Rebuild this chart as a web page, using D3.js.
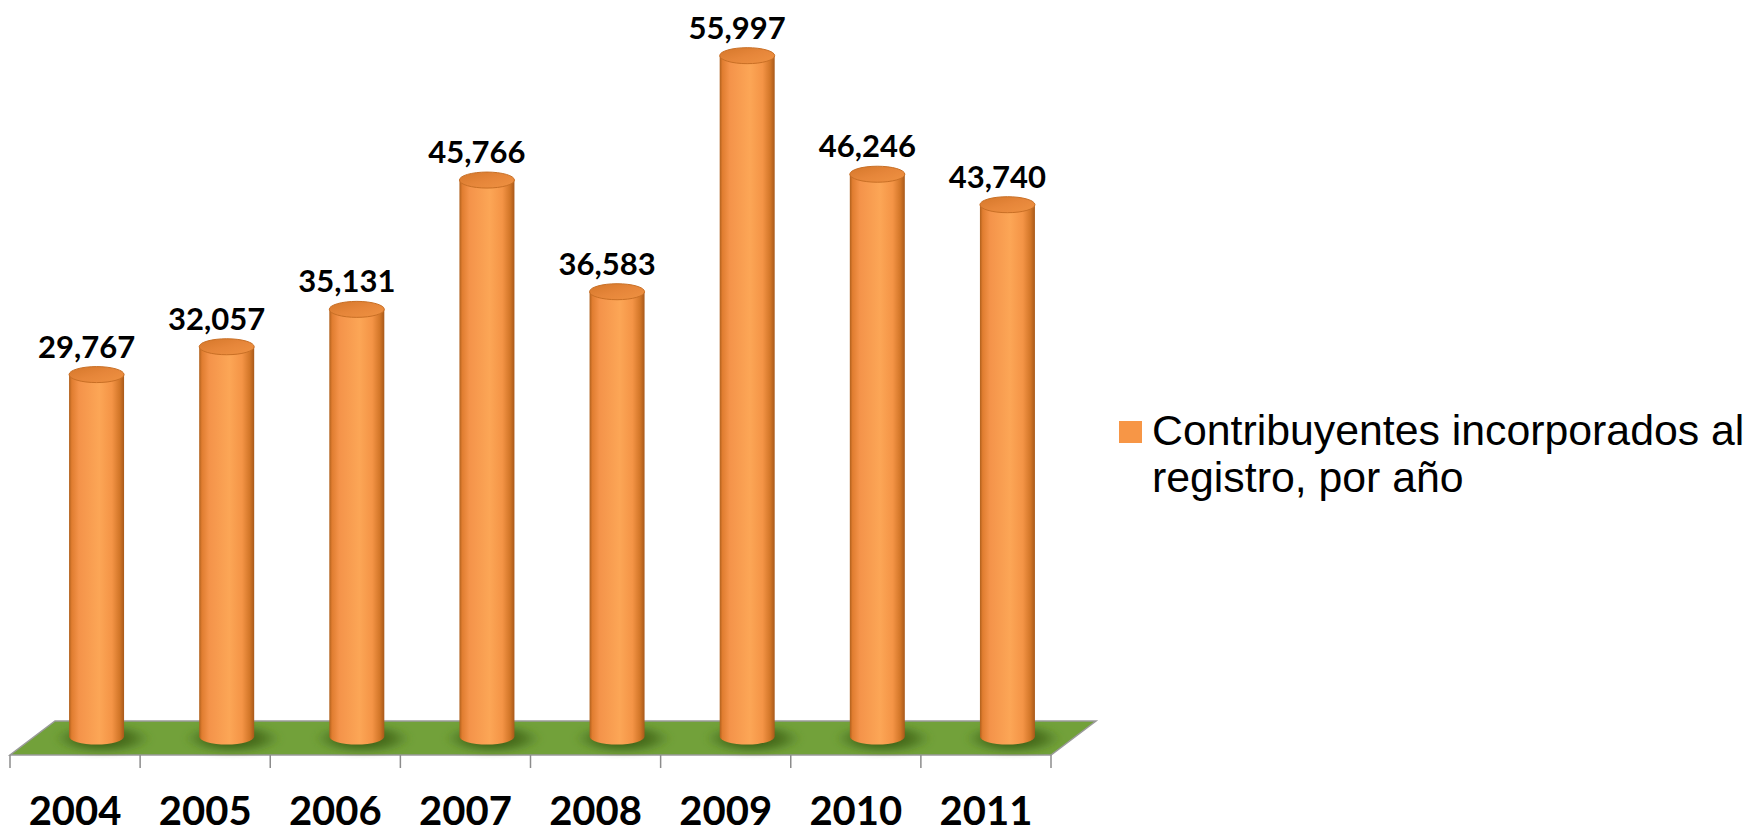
<!DOCTYPE html>
<html>
<head>
<meta charset="utf-8">
<script src="https://cdn.jsdelivr.net/npm/d3@7/dist/d3.min.js"></script>
<style>
  html, body { margin: 0; padding: 0; background: #ffffff; }
  svg { display: block; }
</style>
</head>
<body>
<svg id="chart" width="1759" height="834"></svg>
<script>
// Taxpayers added to the register, per year
const years = ["2004", "2005", "2006", "2007", "2008", "2009", "2010", "2011"];
const values = [29767, 32057, 35131, 45766, 36583, 55997, 46246, 43740];
const seriesName = ["Contribuyentes incorporados al", "registro, por año"];

const svg = d3.select("#chart");
const defs = svg.append("defs");

// floor geometry (oblique projection of a flat plane)
const frontY = 755, backY = 721;
const depthDx = 45;                 // horizontal shift from front edge to back edge
const midDx = depthDx / 2;

const x = d3.scaleBand().domain(years).range([10, 1051]).paddingInner(0).paddingOuter(0);
const y = d3.scaleLinear().domain([0, 60000]).range([736.5, 7]);

const barRx = 27.5, barRy = 8;

// cylinder body shading
const bodyGrad = defs.append("linearGradient").attr("id", "cylBody")
  .attr("x1", "0%").attr("x2", "100%").attr("y1", "0%").attr("y2", "0%");
[["0%", "#b0601c"], ["5%", "#e07d30"], ["18%", "#f4934a"], ["55%", "#fca656"],
 ["78%", "#f49446"], ["92%", "#d27628"], ["100%", "#a8591a"]]
  .forEach(([o, c]) => bodyGrad.append("stop").attr("offset", o).attr("stop-color", c));

// cylinder top face shading
const capGrad = defs.append("linearGradient").attr("id", "cylTop")
  .attr("x1", "0%").attr("x2", "100%").attr("y1", "0%").attr("y2", "100%");
[["0%", "#d5772a"], ["50%", "#e6863a"], ["100%", "#ef9242"]]
  .forEach(([o, c]) => capGrad.append("stop").attr("offset", o).attr("stop-color", c));

// soft shadow under each cylinder
const shadowGrad = defs.append("radialGradient").attr("id", "baseShadow");
shadowGrad.append("stop").attr("offset", "0%").attr("stop-color", "#2a4a10").attr("stop-opacity", 0.9);
shadowGrad.append("stop").attr("offset", "60%").attr("stop-color", "#3a5e16").attr("stop-opacity", 0.65);
shadowGrad.append("stop").attr("offset", "100%").attr("stop-color", "#4a7220").attr("stop-opacity", 0);
defs.append("filter").attr("id", "soft").attr("x", "-50%").attr("y", "-50%").attr("width", "200%").attr("height", "200%")
  .append("feGaussianBlur").attr("stdDeviation", 3);

// floor plane
const x0 = x.range()[0], x1 = x.range()[1];
svg.append("path")
  .attr("d", `M${x0},${frontY} L${x1},${frontY} L${x1 + depthDx},${backY} L${x0 + depthDx},${backY} Z`)
  .attr("fill", "#72a13a")
  .attr("stroke", "#9a9a9a")
  .attr("stroke-width", 1.5);

// category boundary ticks below the floor
const edges = years.map(d => x(d)).concat([x1]);
svg.append("g").selectAll("line").data(edges).join("line")
  .attr("x1", d => d).attr("x2", d => d)
  .attr("y1", frontY).attr("y2", frontY + 13)
  .attr("stroke", "#8c8c8c").attr("stroke-width", 1.5);

const cx = d => x(d) + x.bandwidth() / 2 + midDx - 1;
const baseY = y(0);

const data = years.map((yr, i) => ({ yr, v: values[i] }));

// shadows
svg.append("g").selectAll("ellipse").data(data).join("ellipse")
  .attr("cx", d => cx(d.yr) + 6)
  .attr("cy", baseY + 2)
  .attr("rx", barRx + 22)
  .attr("ry", barRy + 8)
  .attr("fill", "url(#baseShadow)")
  .attr("filter", "url(#soft)");

// cylinders
const bars = svg.append("g").selectAll("g").data(data).join("g");

bars.append("path")
  .attr("d", d => {
    const c = cx(d.yr), t = y(d.v);
    return `M${c - barRx},${t} L${c - barRx},${baseY} ` +
           `A${barRx},${barRy} 0 0 0 ${c + barRx},${baseY} ` +
           `L${c + barRx},${t} Z`;
  })
  .attr("fill", "url(#cylBody)");

bars.append("ellipse")
  .attr("cx", d => cx(d.yr))
  .attr("cy", d => y(d.v))
  .attr("rx", barRx)
  .attr("ry", barRy)
  .attr("fill", "url(#cylTop)")
  .attr("stroke", "#c86f25")
  .attr("stroke-width", 1);

// value labels
const fmt = d3.format(",");
svg.append("g").selectAll("text").data(data).join("text")
  .attr("x", d => cx(d.yr) - 10)
  .attr("y", d => y(d.v) - barRy - 9)
  .attr("text-anchor", "middle")
  .attr("font-family", "Lato, 'Open Sans', sans-serif")
  .attr("font-weight", 700)
  .attr("font-size", 31)
  .attr("fill", "#000")
  .text(d => fmt(d.v));

// year labels
const axis = d3.axisBottom(x).tickSize(0).tickPadding(0);
const ax = svg.append("g").attr("transform", `translate(0,${frontY})`).call(axis);
ax.select(".domain").remove();
ax.selectAll("text")
  .attr("y", 70)
  .attr("dy", null)
  .attr("font-family", "Lato, 'Open Sans', sans-serif")
  .attr("font-weight", 700)
  .attr("font-size", 40)
  .attr("fill", "#000");

// legend
const lg = svg.append("g");
lg.append("rect")
  .attr("x", 1119).attr("y", 421).attr("width", 23).attr("height", 22)
  .attr("fill", "#f79646");
lg.append("text")
  .attr("font-family", "'Liberation Sans', Arial, sans-serif")
  .attr("font-size", 42.8)
  .attr("fill", "#000")
  .selectAll("tspan").data(seriesName).join("tspan")
  .attr("x", 1152)
  .attr("y", (d, i) => 445 + i * 47)
  .text(d => d);
</script>
</body>
</html>
